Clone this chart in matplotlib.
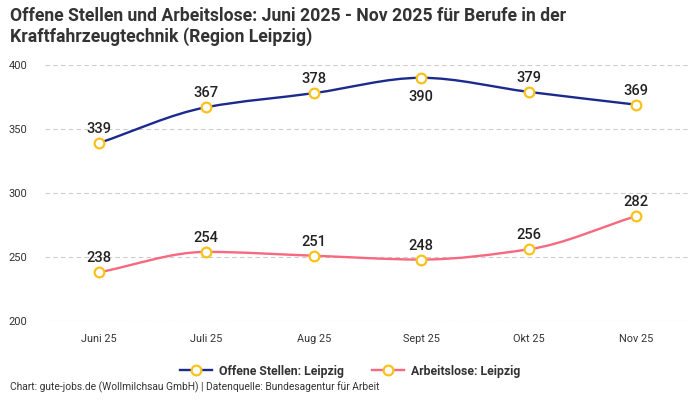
import numpy as np
import matplotlib.pyplot as plt
from matplotlib.path import Path
from matplotlib.patches import PathPatch
from matplotlib.lines import Line2D

plt.rcParams['font.family'] = ['Roboto', 'DejaVu Sans']

months = ['Juni 25', 'Juli 25', 'Aug 25', 'Sept 25', 'Okt 25', 'Nov 25']
offene = [339, 367, 378, 390, 379, 369]
arbeitslose = [238, 254, 251, 248, 256, 282]
yticks = [200, 250, 300, 350, 400]

navy = '#1b2a8c'
pink = '#f7697f'
gold = '#f9c21b'


def monotone_path(x, y):
    # Fritsch-Carlson tangents, drawn as cubic bezier segments
    x = np.asarray(x, float)
    y = np.asarray(y, float)
    h = np.diff(x)
    d = np.diff(y) / h
    m = np.zeros_like(y)
    m[0], m[-1] = d[0], d[-1]
    for i in range(1, len(y) - 1):
        if d[i - 1] * d[i] <= 0:
            m[i] = 0
        else:
            m[i] = 3 * (h[i - 1] + h[i]) / ((2 * h[i] + h[i - 1]) / d[i - 1] + (h[i] + 2 * h[i - 1]) / d[i])
    verts = [(x[0], y[0])]
    codes = [Path.MOVETO]
    for i in range(len(x) - 1):
        verts += [(x[i] + h[i] / 3, y[i] + m[i] * h[i] / 3),
                  (x[i + 1] - h[i] / 3, y[i + 1] - m[i + 1] * h[i] / 3),
                  (x[i + 1], y[i + 1])]
        codes += [Path.CURVE4] * 3
    return Path(verts, codes)


fig = plt.figure(figsize=(7, 4), dpi=100)
ax = fig.add_axes([0.0643, 0.1975, 0.9214, 0.64])

xs = np.arange(len(months))
for vals, col in [(offene, navy), (arbeitslose, pink)]:
    ax.add_patch(PathPatch(monotone_path(xs, vals), fill=False, edgecolor=col, lw=1.7, zorder=3))
    ax.plot(xs, vals, ls='none', marker='o', ms=7, mfc='white', mec=gold, mew=1.6, zorder=4)

for i, v in enumerate(offene):
    if months[i] == 'Sept 25':
        ax.annotate(str(v), (i, v), xytext=(0, -9), textcoords='offset points',
                    ha='center', va='top', fontsize=10.5, fontweight='medium', color='#222222')
    else:
        ax.annotate(str(v), (i, v), xytext=(0, 5), textcoords='offset points',
                    ha='center', va='bottom', fontsize=10.5, fontweight='medium', color='#222222')
for i, v in enumerate(arbeitslose):
    ax.annotate(str(v), (i, v), xytext=(0, 5), textcoords='offset points',
                ha='center', va='bottom', fontsize=10.5, fontweight='medium', color='#222222')

ax.set_xlim(-0.5, 5.5)
ax.set_ylim(200, 400)
ax.set_xticks(xs)
ax.set_xticklabels(months)
ax.set_yticks(yticks)
ax.tick_params(axis='both', length=0, labelsize=7.8, colors='#333333')
ax.tick_params(axis='x', pad=9)
ax.tick_params(axis='y', labelsize=8, pad=26)
for lab in ax.get_yticklabels():
    lab.set_horizontalalignment('left')
ax.grid(axis='y', color='#cccccc', ls=(0, (4, 3)), lw=0.8)
for s in ax.spines.values():
    s.set_visible(False)

fig.text(0.014, 0.982, 'Offene Stellen und Arbeitslose: Juni 2025 - Nov 2025 für Berufe in der\nKraftfahrzeugtechnik (Region Leipzig)',
         ha='left', va='top', fontsize=12.7, fontweight='bold', color='#333333', linespacing=1.15)

handles = [Line2D([], [], color=navy, lw=1.7, marker='o', ms=7, mfc='white', mec=gold, mew=1.6),
           Line2D([], [], color=pink, lw=1.7, marker='o', ms=7, mfc='white', mec=gold, mew=1.6)]
leg = fig.legend(handles, ['Offene Stellen: Leipzig', 'Arbeitslose: Leipzig'], loc='center',
                 bbox_to_anchor=(0.5, 0.072), ncol=2, frameon=False, fontsize=8.8,
                 handlelength=2.6, columnspacing=2.3, handletextpad=0.6)
for t in leg.get_texts():
    t.set_fontweight('bold')
    t.set_color('#333333')

fig.text(0.014, 0.018, 'Chart: gute-jobs.de (Wollmilchsau GmbH) | Datenquelle: Bundesagentur für Arbeit',
         ha='left', va='bottom', fontsize=7.4, color='#333333')

fig.savefig('out.png', dpi=100)
